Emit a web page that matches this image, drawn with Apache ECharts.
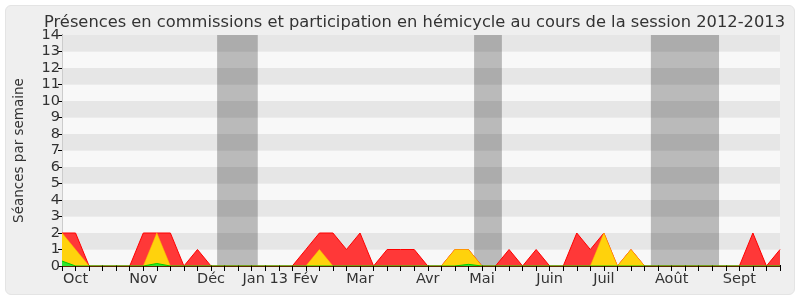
<!DOCTYPE html>
<html>
<head>
<meta charset="utf-8">
<script src="https://cdn.jsdelivr.net/npm/echarts@6/dist/echarts.min.js"></script>
<style>
html,body{margin:0;padding:0;background:#fff;}
#wrap{position:relative;width:800px;height:300px;}
#frame{position:absolute;left:5px;top:5px;width:788px;height:288px;background:#EFEFEF;border:1px solid #E4E4E4;border-radius:6px;}
#chart{position:absolute;left:0;top:0;width:800px;height:300px;}
</style>
</head>
<body>
<div id="wrap"><div id="frame"></div><div id="chart"></div></div>
<script>
// Weekly values, index 0..53 (one point per week)
const weeks = Array.from({length: 54}, (_, i) => i);
const monthLabels = {1:'Oct',6:'Nov',11:'Déc',15:'Jan 13',18:'Fév',22:'Mar',27:'Avr',31:'Mai',36:'Juin',40:'Juil',45:'Août',50:'Sept'};
const redValues = [2,2,0,0,0,0,2,2,2,0,1,0,0,0,0,0,0,0,1,2,2,1,2,0,1,1,1,0,0,1,1,0,0,1,0,1,0,0,2,1,2,0,1,0,0,0,0,0,0,0,0,2,0,1];
const yellowValues = [2,1,0,0,0,0,0,2,0,0,0,0,0,0,0,0,0,0,0,1,0,0,0,0,0,0,0,0,0,1,1,0,0,0,0,0,0,0,0,0,2,0,1,0,0,0,0,0,0,0,0,0,0,0];
const greenValues = [0.3,0,0,0,0,0,0,0.15,0,0,0,0,0,0,0,0,0,0,0,0,0,0,0,0,0,0,0,0,0,0,0.1,0,0,0,0,0,0,0,0,0,0,0,0,0,0,0,0,0,0,0,0,0,0,0];
const holidayBands = [[11.45,14.45],[30.42,32.47],[43.47,48.5]];
const yMax = 14;

const font = 'DejaVu Sans';
const pair = (arr) => arr.map((v, i) => [weeks[i], v]);

const chart = echarts.init(document.getElementById('chart'), null, {renderer: 'canvas'});
chart.setOption({
  animation: false,
  backgroundColor: 'transparent',
  title: {
    text: 'Présences en commissions et participation en hémicycle au cours de la session 2012-2013',
    left: 39, top: 10,
    textStyle: {fontFamily: font, fontSize: 16.3, fontWeight: 'normal', color: '#333'}
  },
  grid: {left: 62, right: 20, top: 35, bottom: 34},
  xAxis: [{
    type: 'value', min: 0, max: weeks.length - 1, interval: 1, z: 10,
    axisLine: {show: true, lineStyle: {color: '#5a2a00', width: 1}},
    axisTick: {show: true, length: 5, lineStyle: {color: '#000'}},
    splitLine: {show: false},
    axisLabel: {
      interval: 0, margin: 6, color: '#333', fontFamily: font, fontSize: 14.5,
      formatter: (v) => monthLabels[v] || ''
    }
  }, {
    type: 'value', position: 'top', min: 0, max: weeks.length - 1, interval: 1,
    axisLine: {show: false},
    axisTick: {show: true, length: 1, lineStyle: {color: '#000'}},
    axisLabel: {show: false}, splitLine: {show: false}
  }],
  yAxis: [{
    type: 'value', min: 0, max: yMax, interval: 1,
    name: 'Séances par semaine', nameLocation: 'middle', nameGap: 36, nameRotate: 90,
    nameTextStyle: {fontFamily: font, fontSize: 13.5, color: '#333'},
    axisLine: {show: true, lineStyle: {color: '#000'}},
    axisTick: {show: true, length: 4, lineStyle: {color: '#000'}},
    axisLabel: {margin: 2, color: '#333', fontFamily: font, fontSize: 14.5},
    splitLine: {show: false},
    splitArea: {show: true, areaStyle: {color: ['#F8F8F8', '#E6E6E6']}}
  }, {
    type: 'value', position: 'right', min: 0, max: yMax, interval: 1,
    axisLine: {show: true, lineStyle: {color: '#CCCCCC'}},
    axisTick: {show: false}, axisLabel: {show: false}, splitLine: {show: false}
  }],
  series: [{
    type: 'line', z: 1, data: [[0, 0]], showSymbol: false, silent: true,
    lineStyle: {opacity: 0},
    markArea: {
      silent: true,
      itemStyle: {color: 'rgba(0,0,0,0.25)'},
      data: holidayBands.map(b => [{xAxis: b[0]}, {xAxis: b[1]}])
    }
  }, {
    type: 'line', z: 3, data: pair(redValues), showSymbol: false,
    lineStyle: {color: '#FF0000', width: 1},
    areaStyle: {color: '#FF3838', opacity: 1}
  }, {
    type: 'line', z: 4, data: pair(yellowValues), showSymbol: false,
    lineStyle: {color: 'rgba(255,190,0,0.55)', width: 1},
    areaStyle: {color: '#FFD20C', opacity: 1}
  }, {
    type: 'line', z: 5, data: pair(greenValues), showSymbol: false,
    lineStyle: {color: '#00CC00', width: 1},
    areaStyle: {color: '#2EE62E', opacity: 1}
  }]
});
</script>
</body>
</html>
